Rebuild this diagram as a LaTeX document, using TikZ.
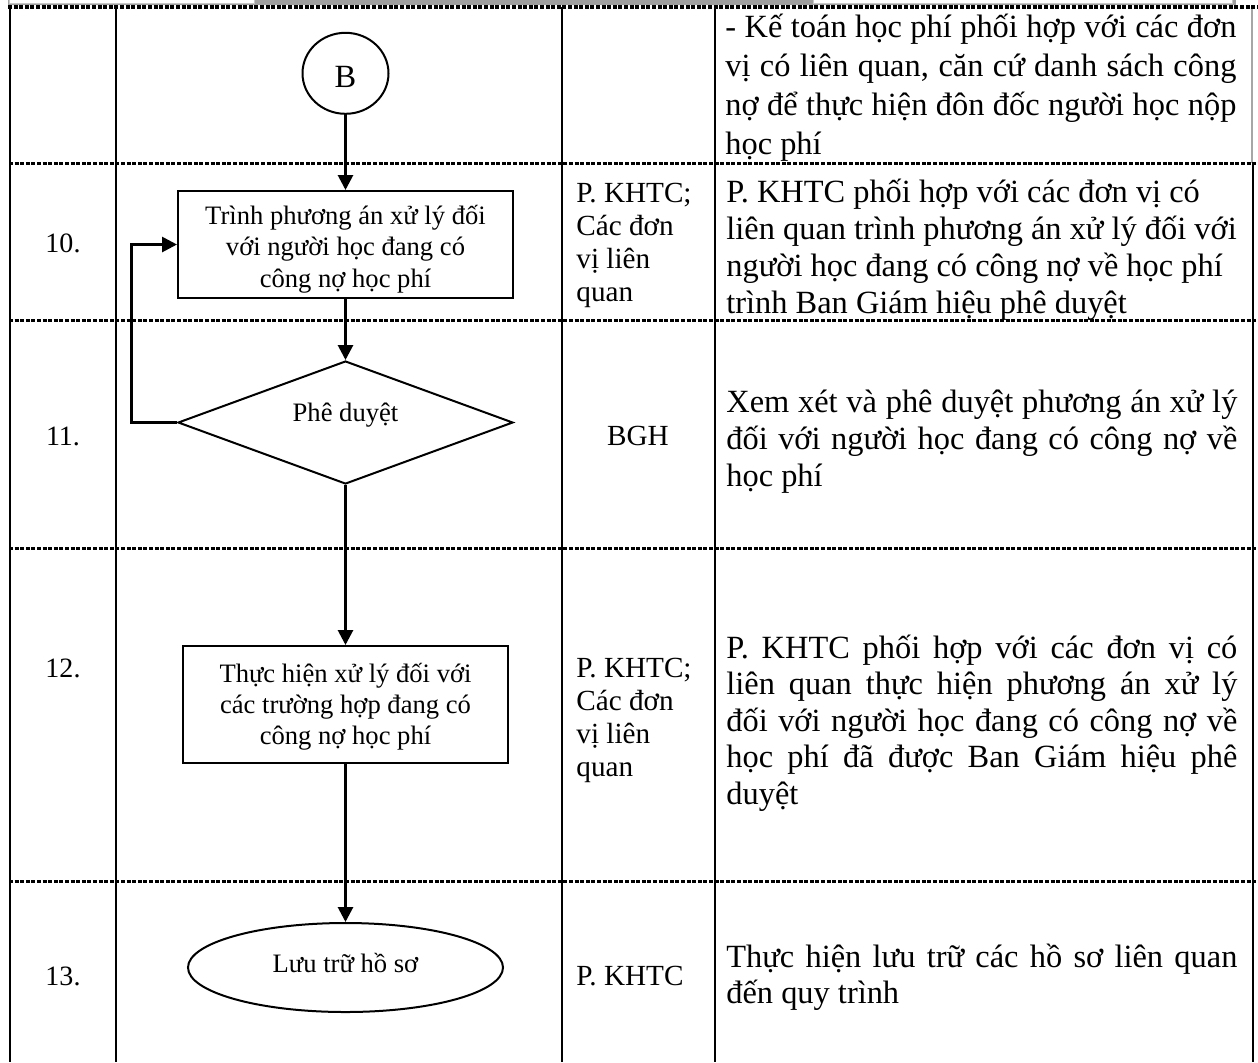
\documentclass[tikz,border=0pt]{standalone}
\usepackage{fontspec}
\setmainfont{Liberation Serif}
\usetikzlibrary{arrows.meta,shapes.geometric}
\newcommand{\jl}[1]{\makebox[255.5pt][s]{#1}}
\tikzset{
  rowline/.style={line width=1.5pt, dash pattern=on 2pt off 0.8pt},
  colline/.style={line width=0.75pt},
  shp/.style={draw, line width=1pt, inner sep=0pt},
  flow/.style={line width=1.4pt, -{Triangle[length=7.5pt,width=7.5pt]}},
  tfour/.style={anchor=base west, inner sep=0pt, font=\fontsize{16.2}{18}\selectfont},
  tthree/.style={anchor=base west, inner sep=0pt, font=\fontsize{14.6}{17}\selectfont},
  tthreec/.style={anchor=base, inner sep=0pt, font=\fontsize{14.6}{17}\selectfont},
  tone/.style={anchor=base, inner sep=0pt, font=\fontsize{14}{16}\selectfont},
  tflow/.style={anchor=base, inner sep=0pt, font=\fontsize{13.3}{15}\selectfont},
}
\begin{document}
\begin{tikzpicture}[x=0.5pt,y=-0.5pt]
\useasboundingbox (0,0) rectangle (1258,1062);
\fill[white] (0,0) rectangle (1258,1062);
% remnants of the previous page header
\fill[gray!75] (8,0) rectangle (1236,5);
\draw[gray!45, fill=white, line width=0.4pt] (9,-1) rectangle (254,3.5);
\draw[gray!45, fill=white, line width=0.4pt] (813,-1) rectangle (1232,3.5);

% columns
\draw[colline] (10,7) -- (10,1062);
\draw[colline] (116,7) -- (116,1062);
\draw[colline] (562,7) -- (562,1062);
\draw[colline] (715,7) -- (715,1062);
\draw[colline, gray!70] (1252,7) -- (1252,163);
\draw[colline] (1253,163) -- (1253,1062);

% rows
\draw[rowline, line width=1.7pt] (8,7) -- (1258,7);
\draw[rowline] (9,163) -- (1258,163);
\draw[rowline] (9,320) -- (1258,320);
\draw[rowline] (9,548) -- (1258,548);
\draw[rowline] (9,881) -- (1258,881);

% flowchart shapes
\node[shp, ellipse, minimum width=43pt, minimum height=40.5pt] (B) at (345.5,73.3) {};
\node[tflow, font=\fontsize{16.2}{18}\selectfont] (Btxt) at (345.5,87) {B};

\node[shp, rectangle, minimum width=167.5pt, minimum height=53.5pt] (box10) at (345.5,244.5) {};
\begin{scope}
  \clip (box10.north west) rectangle (box10.south east);
  \node[tflow] (b10a) at (345.5,224) {Trình phương án xử lý đối};
  \node[tflow] (b10b) at (345.5,255.5) {với người học đang có};
  \node[tflow] (b10c) at (345.5,287) {công nợ học phí};
\end{scope}

\node[shp, diamond, minimum width=167.5pt, minimum height=61.5pt] (dia) at (345.5,422.5) {};
\node[tflow] (diatxt) at (345.5,421.5) {Phê duyệt};

\node[shp, rectangle, minimum width=162.5pt, minimum height=58.5pt] (box12) at (345.5,704.5) {};
\node[tflow] (b12a) at (345.5,682) {Thực hiện xử lý đối với};
\node[tflow] (b12b) at (345.5,713) {các trường hợp đang có};
\node[tflow] (b12c) at (345.5,744) {công nợ học phí};

\node[shp, ellipse, minimum width=157.5pt, minimum height=44.5pt] (ell) at (345.5,967.5) {};
\node[tflow] (elltxt) at (345.5,972) {Lưu trữ hồ sơ};

% connectors
\draw[flow] (B.south) -- (box10.north);
\draw[flow] (box10.south) -- (dia.north);
\draw[flow] (dia.south) -- (box12.north);
\draw[flow] (box12.south) -- (ell.north);
\coordinate (loopc) at (131.5,422.5);
\draw[flow] (dia.west) -- (loopc) |- (box10.west);

% column 1
\node[tone] (n10) at (63,252) {10.};
\node[tone] (n11) at (63,445) {11.};
\node[tone] (n12) at (63,677) {12.};
\node[tone] (n13) at (63,985) {13.};

% column 3
\node[tthree] (r10a) at (576,202) {P. KHTC;};
\node[tthree] (r10b) at (576,235) {Các đơn};
\node[tthree] (r10c) at (576,268) {vị liên};
\node[tthree] (r10d) at (576,301) {quan};
\node[tthreec] (r11) at (638,445) {BGH};
\node[tthree] (r12a) at (576,677) {P. KHTC;};
\node[tthree] (r12b) at (576,710) {Các đơn};
\node[tthree] (r12c) at (576,743) {vị liên};
\node[tthree] (r12d) at (576,776) {quan};
\node[tthree] (r13) at (576,985) {P. KHTC};

% column 4
\node[tfour] (d9a) at (725,37) {\jl{- Kế toán học phí phối hợp với các đơn}};
\node[tfour] (d9b) at (725,76) {\jl{vị có liên quan, căn cứ danh sách công}};
\node[tfour] (d9c) at (725,115) {\jl{nợ để thực hiện đôn đốc người học nộp}};
\node[tfour] (d9d) at (725,154) {học phí};

\node[tfour] (d10a) at (726,202) {P. KHTC phối hợp với các đơn vị có};
\node[tfour] (d10b) at (726,239) {liên quan trình phương án xử lý đối với};
\node[tfour] (d10c) at (726,276) {người học đang có công nợ về học phí};
\node[tfour] (d10d) at (726,313) {trình Ban Giám hiệu phê duyệt};

\node[tfour] (d11a) at (726,412) {\jl{Xem xét và phê duyệt phương án xử lý}};
\node[tfour] (d11b) at (726,449) {\jl{đối với người học đang có công nợ về}};
\node[tfour] (d11c) at (726,486) {học phí};

\node[tfour] (d12a) at (726,658) {\jl{P. KHTC phối hợp với các đơn vị có}};
\node[tfour] (d12b) at (726,694.5) {\jl{liên quan thực hiện phương án xử lý}};
\node[tfour] (d12c) at (726,731) {\jl{đối với người học đang có công nợ về}};
\node[tfour] (d12d) at (726,767.5) {\jl{học phí đã được Ban Giám hiệu phê}};
\node[tfour] (d12e) at (726,804) {duyệt};

\node[tfour] (d13a) at (726,967) {\jl{Thực hiện lưu trữ các hồ sơ liên quan}};
\node[tfour] (d13b) at (726,1003) {đến quy trình};
\end{tikzpicture}
\end{document}
